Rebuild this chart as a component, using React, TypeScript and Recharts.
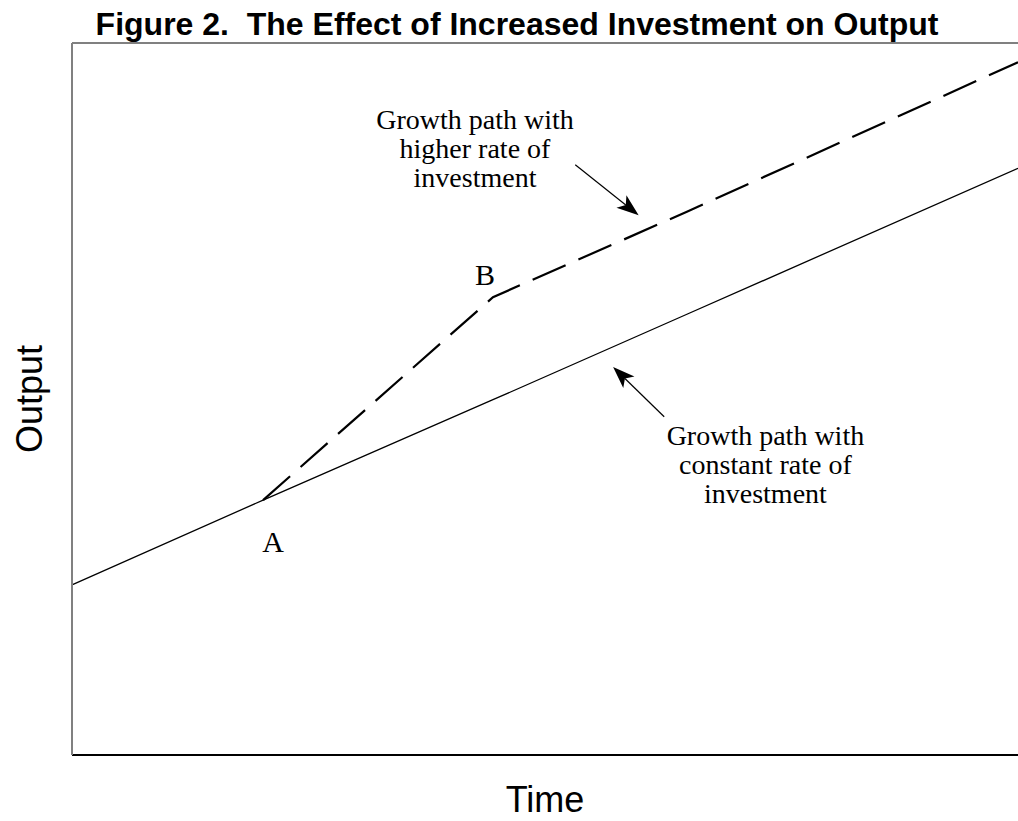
import {
  LineChart,
  Line,
  XAxis,
  YAxis,
  ReferenceLine,
  ReferenceDot,
  Label,
} from 'recharts';

// time along the x axis (0..100) and output along the y axis (0..100)
const times = [0, 20.2, 44.5, 65, 100];
const constantPath = [23.9, 35.8, 49.9, 61.9, 82.4];
const higherPath = [null, 35.8, 64.3, 76.3, 97.3];

const pointA = { t: 20.2, y: 35.8 };
const pointB = { t: 44.5, y: 64.3 };

const higherLabel = ['Growth path with', 'higher rate of', 'investment'];
const constantLabel = ['Growth path with', 'constant rate of', 'investment'];

const chartData = times.map((t, i) => ({
  t,
  constant: constantPath[i],
  higher: higherPath[i],
}));

const SERIF = '"Liberation Serif", "Times New Roman", serif';
const SANS = '"Liberation Sans", Arial, sans-serif';

const multiLine = (lines: string[]) => (props: any) => (
  <text
    x={props.cx}
    y={props.cy}
    textAnchor="middle"
    fontFamily={SERIF}
    fontSize={28}
    fill="#000"
  >
    {lines.map((line, i) => (
      <tspan key={i} x={props.cx} dy={i === 0 ? 0 : 29}>
        {line}
      </tspan>
    ))}
  </text>
);

const letter = (text: string, dx: number, dy: number) => (props: any) => (
  <text
    x={props.cx + dx}
    y={props.cy + dy}
    textAnchor="middle"
    fontFamily={SERIF}
    fontSize={30}
    fill="#000"
  >
    {text}
  </text>
);

// arrow with a filled, slightly notched head at the second end
const arrow = (props: any) => {
  const { x1, y1, x2, y2 } = props;
  const dx = x2 - x1;
  const dy = y2 - y1;
  const len = Math.sqrt(dx * dx + dy * dy);
  const ux = dx / len;
  const uy = dy / len;
  const head = 22;
  const half = 8;
  const bx = x2 - ux * head;
  const by = y2 - uy * head;
  const nx = x2 - ux * head * 0.75;
  const ny = y2 - uy * head * 0.75;
  const pts = [
    [x2, y2],
    [bx - uy * half, by + ux * half],
    [nx, ny],
    [bx + uy * half, by - ux * half],
  ]
    .map((p) => p.join(','))
    .join(' ');
  return (
    <g>
      <line x1={x1} y1={y1} x2={nx} y2={ny} stroke="#000" strokeWidth={1.2} />
      <polygon points={pts} fill="#000" />
    </g>
  );
};

export default function App() {
  return (
    <div style={{ position: 'absolute', left: 0, top: 0, width: 1018, height: 821, background: '#fff' }}>
      <LineChart
        width={1018}
        height={821}
        data={chartData}
        margin={{ top: 43, right: 0, left: 71, bottom: 65 }}
      >
        <XAxis
          dataKey="t"
          type="number"
          domain={[0, 100]}
          tick={false}
          tickLine={false}
          height={1}
          stroke="#000"
          strokeWidth={2}
        >
          <Label
            content={(p: any) => (
              <text
                x={p.viewBox.x + p.viewBox.width / 2}
                y={p.viewBox.y + 57}
                textAnchor="middle"
                fontFamily={SANS}
                fontSize={36}
                fill="#000"
              >
                Time
              </text>
            )}
          />
        </XAxis>
        <YAxis
          type="number"
          domain={[0, 100]}
          tick={false}
          tickLine={false}
          width={1}
          stroke="#808080"
          strokeWidth={2}
        >
          <Label
            content={(p: any) => {
              const cx = 42;
              const cy = p.viewBox.y + p.viewBox.height / 2;
              return (
                <text
                  x={cx}
                  y={cy}
                  textAnchor="middle"
                  fontFamily={SANS}
                  fontSize={36}
                  fill="#000"
                  transform={`rotate(-90 ${cx} ${cy})`}
                >
                  Output
                </text>
              );
            }}
          />
        </YAxis>
        <ReferenceLine y={100} stroke="#808080" strokeWidth={2}>
          <Label
            content={(p: any) => (
              <text
                x={p.viewBox.x + 445}
                y={35}
                textAnchor="middle"
                fontFamily={SANS}
                fontWeight="bold"
                fontSize={32}
                fill="#000"
                style={{ whiteSpace: 'pre' }}
              >
                {'Figure 2.  The Effect of Increased Investment on Output'}
              </text>
            )}
          />
        </ReferenceLine>
        <Line
          type="linear"
          dataKey="constant"
          stroke="#000"
          strokeWidth={1.3}
          dot={false}
          isAnimationActive={false}
        />
        <Line
          type="linear"
          dataKey="higher"
          stroke="#000"
          strokeWidth={2.2}
          strokeDasharray="36 14"
          dot={false}
          isAnimationActive={false}
        />
        <ReferenceLine
          segment={[
            { x: 53.2, y: 82.9 },
            { x: 59.9, y: 75.8 },
          ]}
          shape={arrow}
        />
        <ReferenceLine
          segment={[
            { x: 62.6, y: 47.5 },
            { x: 57.2, y: 54.5 },
          ]}
          shape={arrow}
        />
        <ReferenceDot x={42.6} y={87.9} r={0} shape={multiLine(higherLabel)} />
        <ReferenceDot x={73.3} y={43.5} r={0} shape={multiLine(constantLabel)} />
        <ReferenceDot x={pointA.t} y={pointA.y} r={0} shape={letter('A', 10, 52)} />
        <ReferenceDot x={pointB.t} y={pointB.y} r={0} shape={letter('B', -8, -12)} />
      </LineChart>
    </div>
  );
}
